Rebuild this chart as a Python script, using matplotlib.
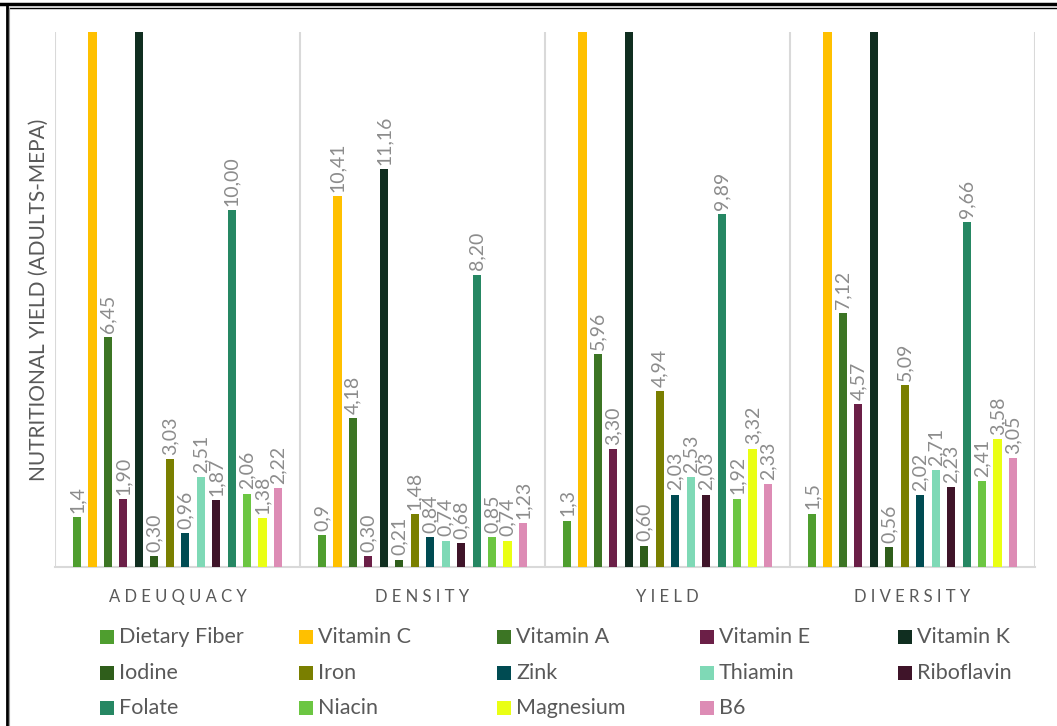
import numpy as np
import matplotlib
matplotlib.use('Agg')
import matplotlib.pyplot as plt
from matplotlib.lines import Line2D
from matplotlib.patches import Rectangle

# Groups and series
categories = ['ADEUQUACY', 'DENSITY', 'YIELD', 'DIVERSITY']
series = ['Dietary Fiber', 'Vitamin C', 'Vitamin A', 'Vitamin E', 'Vitamin K',
          'Iodine', 'Iron', 'Zink', 'Thiamin', 'Riboflavin',
          'Folate', 'Niacin', 'Magnesium', 'B6']
colors = ['#4f9e2f', '#ffc000', '#3c7524', '#6b1f47', '#102e20',
          '#2f5e1b', '#7a7f00', '#004b52', '#7fd9b6', '#3f1429',
          '#268763', '#6cc642', '#eaff14', '#dd8cb5']
decimals = [1, 2, 2, 2, 2, 2, 2, 2, 2, 2, 2, 2, 2, 2]

# values per series: adequacy, density, yield, diversity
dietary_fiber = [1.4, 0.9, 1.3, 1.5]
vitamin_c = [21.8, 10.41, 24.6, 26.3]
vitamin_a = [6.45, 4.18, 5.96, 7.12]
vitamin_e = [1.90, 0.30, 3.30, 4.57]
vitamin_k = [19.4, 11.16, 22.1, 20.7]
iodine = [0.30, 0.21, 0.60, 0.56]
iron = [3.03, 1.48, 4.94, 5.09]
zink = [0.96, 0.84, 2.03, 2.02]
thiamin = [2.51, 0.74, 2.53, 2.71]
riboflavin = [1.87, 0.68, 2.03, 2.23]
folate = [10.00, 8.20, 9.89, 9.66]
niacin = [2.06, 0.85, 1.92, 2.41]
magnesium = [1.38, 0.74, 3.32, 3.58]
b6 = [2.22, 1.23, 2.33, 3.05]

values = [dietary_fiber, vitamin_c, vitamin_a, vitamin_e, vitamin_k,
          iodine, iron, zink, thiamin, riboflavin,
          folate, niacin, magnesium, b6]

plt.rcParams['font.family'] = ['Lato', 'DejaVu Sans']

W, H = 1057, 726
fig = plt.figure(figsize=(W / 100, H / 100), dpi=100)
ax = fig.add_axes([55 / W, 1 - 567 / H, 980 / W, 535 / H])

x = np.arange(len(categories))
slot = 15.46 / 245
bar_w = 8.2 / 245
n = len(series)

for i, (name, vals, col, dec) in enumerate(zip(series, values, colors, decimals)):
    xs = x + (i - (n - 1) / 2) * slot
    ax.bar(xs, vals, width=bar_w, color=col, zorder=3, label=name)
    for xi, v in zip(xs, vals):
        txt = f'{v:.{dec}f}'.replace('.', ',')
        ax.annotate(txt, (xi, v), xytext=(0, 3), textcoords='offset points',
                    rotation=90, ha='center', va='bottom', fontsize=14,
                    color='#8c8c8c', clip_on=True, annotation_clip=True)

ax.set_xlim(-0.5, len(categories) - 0.5)
ax.set_ylim(0, 15)
ax.set_yticks([])
ax.set_xticks([])
for s in ['top', 'right', 'left']:
    ax.spines[s].set_visible(False)
ax.spines['bottom'].set_color('#d9d9d9')
ax.spines['bottom'].set_linewidth(1.5)

# separators between groups
for b in np.arange(-0.5, len(categories), 1.0):
    ax.axvline(b, color='#d9d9d9', lw=1.5, zorder=1)

# spaced-out group labels
for xi, cat in zip(x, categories):
    ax.text(xi, -30 / 535, ' '.join(cat),
            transform=ax.get_xaxis_transform(), ha='center', va='center',
            fontsize=12, color='#595959')

ax.set_ylabel('NUTRITIONAL YIELD (ADULTS-MEPA)', fontsize=15, color='#595959')
ax.yaxis.set_label_coords(-6 / 980, 0.5)

# legend, laid out row by row in five columns
col_x = [100, 299, 497, 700, 898]
row_y = [637, 673, 708]
sq = 14
for i, (name, col) in enumerate(zip(series, colors)):
    r, c = divmod(i, 5)
    px, py = col_x[c], row_y[r]
    fig.patches.append(Rectangle((px / W, (H - py - sq / 2) / H), sq / W, sq / H,
                                 transform=fig.transFigure, facecolor=col,
                                 edgecolor='none'))
    fig.text((px + sq + 5) / W, (H - py) / H, name, ha='left', va='center',
             fontsize=15.5, color='#595959')

# page borders
fig.add_artist(Line2D([0, 1], [1 - 4 / H, 1 - 4 / H], color='black', lw=2.5,
                      transform=fig.transFigure))
fig.add_artist(Line2D([7 / W, 1], [1 - 7.5 / H, 1 - 7.5 / H], color='black', lw=1,
                      transform=fig.transFigure))
fig.add_artist(Line2D([7 / W, 7 / W], [0, 1 - 6 / H], color='black', lw=2,
                      transform=fig.transFigure))
fig.add_artist(Line2D([8.8 / W, 8.8 / W], [0, 1 - 7.5 / H], color='#9a9a9a', lw=0.8,
                      transform=fig.transFigure))

fig.savefig('out.png', dpi=100)
